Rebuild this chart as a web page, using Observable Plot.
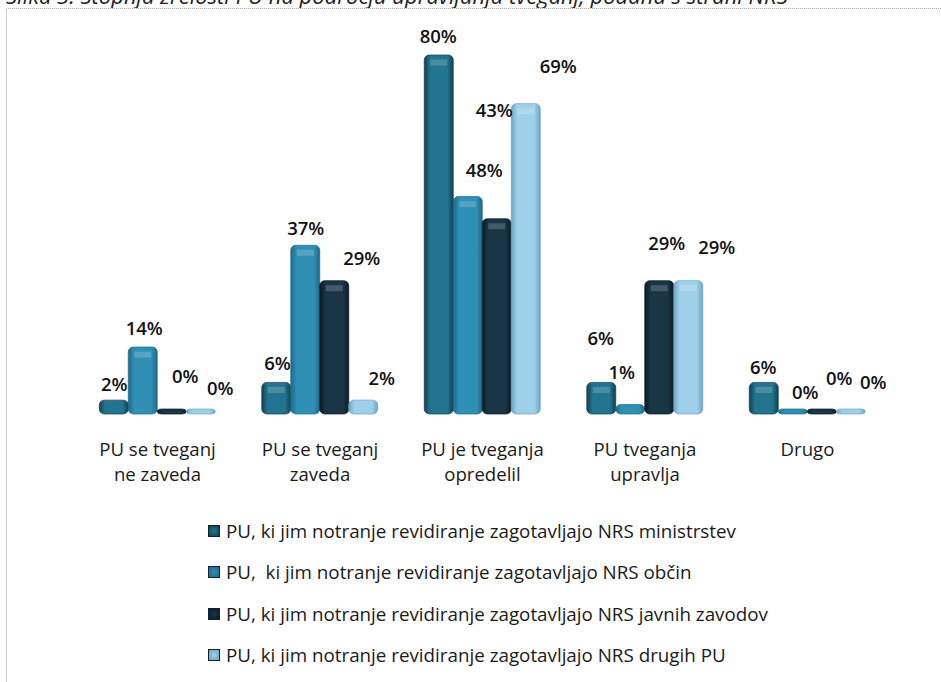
<!DOCTYPE html>
<html><head><meta charset="utf-8">
<script src="https://cdn.jsdelivr.net/npm/d3@7"></script>
<script src="https://cdn.jsdelivr.net/npm/@observablehq/plot@0.6"></script>
<style>
html,body{margin:0;padding:0;background:#fff;width:941px;height:682px;overflow:hidden;font-family:"Open Sans",sans-serif;color:#1a1a1a}
#title{height:8px;overflow:hidden;position:relative}
#title span{position:absolute;left:6px;top:-20px;font:italic 22px "Open Sans",sans-serif;white-space:nowrap;color:#222}
#chart svg{display:block;background:transparent}
#frame{position:absolute;left:6px;top:8px;width:940px;height:680px;border-left:1px solid #cfcfcf;border-top:1px dotted #aaa;pointer-events:none}
#legend{position:absolute;left:208px;top:510px}
.row{height:41.5px;display:flex;align-items:center;font-size:18.8px;white-space:pre}
.sw{width:10px;height:10px;margin-right:6px;border:1px solid #123}
</style></head>
<body>
<div id="title"><span>Slika 3: Stopnja zrelosti PU na področju upravljanja tveganj, podana s strani NRS</span></div>
<div id="chart"></div>
<div id="frame"></div>
<div id="legend"></div>
<script>
const categories = ["PU se tveganj\nne zaveda","PU se tveganj\nzaveda","PU je tveganja\nopredelil","PU tveganja\nupravlja","Drugo"];
const seriesNames = [
  "PU, ki jim notranje revidiranje zagotavljajo NRS ministrstev",
  "PU,  ki jim notranje revidiranje zagotavljajo NRS občin",
  "PU, ki jim notranje revidiranje zagotavljajo NRS javnih zavodov",
  "PU, ki jim notranje revidiranje zagotavljajo NRS drugih PU"
];
const ministrstev = [2,6,80,6,6];
const obcin = [14,37,48,1,0];
const zavodov = [0,29,43,29,0];
const drugih = [0,2,69,29,0];
const allValues = [ministrstev,obcin,zavodov,drugih];
const shades = [
  ["#123f52","#23748f","#123f52"],
  ["#1d6a87","#2f8fb5","#1d6a87"],
  ["#0b1a25","#1a3646","#0b1a25"],
  ["#6ea4c2","#9fd0ea","#6ea4c2"]
];
// label offsets from the top of each bar: [dx, dy], by series then category
const labelShift = [
  [[0,-16],[0.75,-18.5],[-1,-18],[-1,-43.5],[-1,-14.5]],
  [[1,-18],[0,-17],[16,-25.6],[-9,-31.6],[12,-16]],
  [[13,-32],[27,-22],[-3,-108],[7,-37],[17,-30]],
  [[19,-20],[18,-22],[32,-37],[28,-33],[22,-26]]
];
const rows = [];
seriesNames.forEach((s,i)=>categories.forEach((c,j)=>rows.push({cat:c,series:s,value:allValues[i][j],i,j})));

const defs = () => {
  const svgNS = "http://www.w3.org/2000/svg";
  const d = document.createElementNS(svgNS,"defs");
  shades.forEach((sh,i)=>{
    const g = document.createElementNS(svgNS,"linearGradient");
    g.setAttribute("id","g"+i);
    [[0,sh[0]],[.2,sh[1]],[.8,sh[1]],[1,sh[2]]].forEach(([o,c])=>{
      const st = document.createElementNS(svgNS,"stop");
      st.setAttribute("offset",o); st.setAttribute("stop-color",c); g.appendChild(st);
    });
    d.appendChild(g);
  });
  return d;
};

const plot = Plot.plot({
  width:941, height:497,
  marginTop:47, marginBottom:96, marginLeft:75.75, marginRight:52.75,
  style:{background:"transparent",fontFamily:"'Open Sans',sans-serif",overflow:"visible"},
  x:{domain:seriesNames,padding:0,axis:null},
  y:{domain:[0,80],axis:null},
  fx:{domain:categories,paddingInner:.274,paddingOuter:.137,round:false,axis:null},
  marks:[
    defs,
    Plot.barY(rows,{fx:"cat",x:"series",y1:0,y2:"value",insetBottom:-5,rx:5,
      fill:d=>`url(#g${d.i})`,stroke:d=>shades[d.i][0],strokeWidth:1,strokeOpacity:.7}),
    Plot.tickY(rows.filter(d=>d.value>=6),{fx:"cat",x:"series",y:"value",dy:7,insetLeft:6,insetRight:6,
      stroke:"#fff",strokeWidth:6,strokeOpacity:.18}),
    ...rows.map(d=>Plot.text([d],{fx:"cat",x:"series",y:"value",text:v=>v.value+"%",
      dx:labelShift[d.i][d.j][0],dy:labelShift[d.i][d.j][1],
      fontSize:18.5,fontWeight:"600",fill:"#111",stroke:"none"})),
    Plot.axisFx({anchor:"bottom",tickSize:0,tickPadding:0,label:null,fontSize:18.6,lineHeight:1.35,
      fill:"#1a1a1a",dy:29,textAnchor:"middle",lineAnchor:"top",marginBottom:96,tickFormat:d=>d})
  ]
});
document.getElementById("chart").appendChild(plot);

const legend = d3.select("#legend");
seriesNames.forEach((s,i)=>{
  const r = legend.append("div").attr("class","row");
  r.append("span").attr("class","sw")
    .style("background",`radial-gradient(${shades[i][1]},${shades[i][0]})`);
  r.append("span").text(s);
});
</script>
</body></html>
